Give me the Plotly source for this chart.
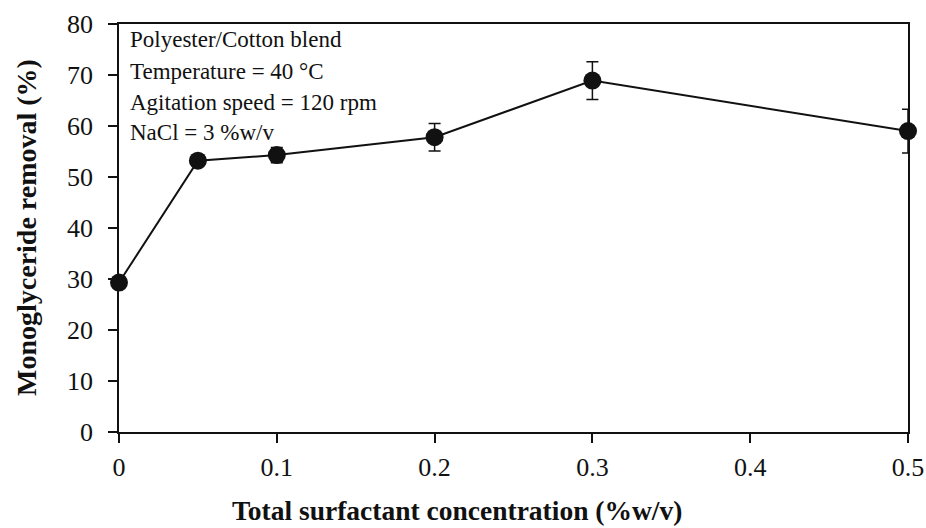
import plotly.graph_objects as go

conc = [0, 0.05, 0.1, 0.2, 0.3, 0.5]
removal = [29.3, 53.2, 54.3, 57.8, 68.9, 59.0]
err = [0, 0, 1.5, 2.7, 3.7, 4.3]

x_ticks = [0, 0.1, 0.2, 0.3, 0.4, 0.5]
x_ticklabels = ["0", "0.1", "0.2", "0.3", "0.4", "0.5"]
y_ticks = [0, 10, 20, 30, 40, 50, 60, 70, 80]

info_lines = ["Polyester/Cotton blend", "Temperature = 40 °C",
              "Agitation speed = 120 rpm", "NaCl = 3 %w/v"]

FONT = "Liberation Serif"
L, R, T, B = 119, 18, 24, 96
W, H = 926, 528
PW, PH = W - L - R, H - T - B


def px(xp):
    return (xp - L) / PW


def py(yp):
    return 1 - (yp - T) / PH


fig = go.Figure()
fig.add_trace(go.Scatter(
    x=conc, y=removal, mode="lines+markers",
    line=dict(color="#111", width=2),
    marker=dict(size=18, color="#111"),
    error_y=dict(type="data", array=err, visible=True, color="#111",
                 thickness=1.5, width=6),
    cliponaxis=False, showlegend=False,
))

fig.update_layout(
    width=W, height=H,
    margin=dict(l=L, r=R, t=T, b=B, autoexpand=False),
    paper_bgcolor="white", plot_bgcolor="white",
    font=dict(family=FONT, color="#111", size=26),
    xaxis=dict(range=[0, 0.5], tickvals=x_ticks, ticktext=x_ticklabels,
               showline=True, linecolor="#111", linewidth=1.5, mirror=True,
               ticks="outside", ticklen=9, tickwidth=1.5, tickcolor="#111",
               showgrid=False, zeroline=False, automargin=False,
               ticklabelstandoff=2),
    yaxis=dict(range=[0, 80], tickvals=y_ticks,
               showline=True, linecolor="#111", linewidth=1.5, mirror=True,
               ticks="outside", ticklen=9, tickwidth=1.5, tickcolor="#111",
               showgrid=False, zeroline=False, automargin=False,
               ticklabelstandoff=10),
)

for i, t in enumerate(info_lines):
    fig.add_annotation(x=px(128), y=py(40 + 31 * i), xref="paper", yref="paper",
                       text=t, showarrow=False, xanchor="left", yanchor="middle",
                       font=dict(family=FONT, size=23, color="#111"))

fig.add_annotation(x=px(457), y=py(510), xref="paper", yref="paper",
                   showarrow=False,
                   text="<b>Total surfactant concentration (%w/v)</b>",
                   font=dict(family=FONT, size=27.5, color="#111"),
                   xanchor="center", yanchor="middle")
fig.add_annotation(x=px(26), y=py(228), xref="paper", yref="paper",
                   showarrow=False, textangle=-90,
                   text="<b>Monoglyceride removal (%)</b>",
                   font=dict(family=FONT, size=28, color="#111"),
                   xanchor="center", yanchor="middle")

fig.write_html("out.html")
